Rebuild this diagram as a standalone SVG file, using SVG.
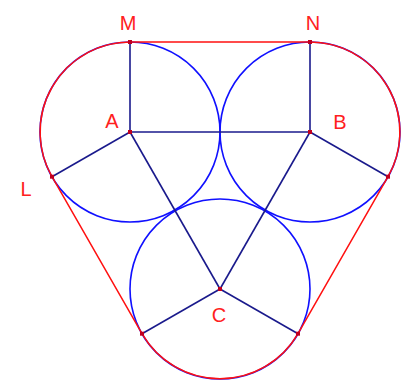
<svg xmlns="http://www.w3.org/2000/svg" width="411" height="383" viewBox="0 0 411 383">
<style>
.circ{fill:none;stroke:#1010ff;stroke-width:1.6}
.seg{fill:none;stroke:#1a1a8c;stroke-width:1.6}
.hull{fill:none;stroke:#ff1010;stroke-width:1.5}
.pt{fill:#c00020}
.lbl{font-family:"Liberation Sans",Arial,sans-serif;font-size:20px;fill:#ff2020;text-anchor:middle}
</style>
<rect width="411" height="383" fill="#ffffff"/>
<g id="circles">
<circle id="circleA" class="circ" cx="130" cy="132" r="90"/>
<circle id="circleB" class="circ" cx="310" cy="132" r="90"/>
<circle id="circleC" class="circ" cx="220" cy="289" r="90"/>
</g>
<g id="hull">
<path class="hull" d="M130,42 L310,42 A90,90 0 0 1 388,176.7 L298,333.7 A90,90 0 0 1 142,333.7 L52,176.7 A90,90 0 0 1 130,42 Z"/>
</g>
<g id="connectors">
<line class="seg" x1="130" y1="42" x2="130" y2="132"/>
<line class="seg" x1="310" y1="42" x2="310" y2="132"/>
<line class="seg" x1="130" y1="132" x2="310" y2="132"/>
<line class="seg" x1="130" y1="132" x2="52" y2="176.7"/>
<line class="seg" x1="310" y1="132" x2="388" y2="176.7"/>
<line class="seg" x1="130" y1="132" x2="220" y2="289"/>
<line class="seg" x1="310" y1="132" x2="220" y2="289"/>
<line class="seg" x1="220" y1="289" x2="142" y2="333.7"/>
<line class="seg" x1="220" y1="289" x2="298" y2="333.7"/>
</g>
<g id="M"><rect class="pt" x="128" y="40" width="4" height="4"/><text class="lbl" x="128" y="30">M</text></g>
<g id="N"><rect class="pt" x="308" y="40" width="4" height="4"/><text class="lbl" x="313" y="30">N</text></g>
<g id="A"><rect class="pt" x="128" y="130" width="4" height="4"/><text class="lbl" x="112" y="128">A</text></g>
<g id="B"><rect class="pt" x="308" y="130" width="4" height="4"/><text class="lbl" x="340" y="129">B</text></g>
<g id="L"><rect class="pt" x="50" y="174.7" width="4" height="4"/><text class="lbl" x="26" y="196">L</text></g>
<g id="R"><rect class="pt" x="386" y="174.7" width="4" height="4"/></g>
<g id="C"><rect class="pt" x="218" y="287" width="4" height="4"/><text class="lbl" x="219" y="322">C</text></g>
<g id="P"><rect class="pt" x="140" y="331.7" width="4" height="4"/></g>
<g id="Q"><rect class="pt" x="296" y="331.7" width="4" height="4"/></g>
</svg>
